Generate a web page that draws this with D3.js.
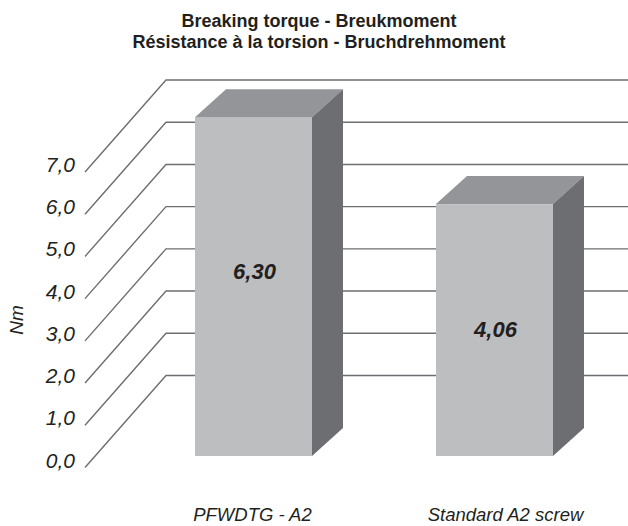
<!DOCTYPE html>
<html>
<head>
<meta charset="utf-8">
<script src="https://cdn.jsdelivr.net/npm/d3@7"></script>
<style>
  body { margin: 0; background: #fff; }
  svg { display: block; font-family: "Liberation Sans", Arial, sans-serif; }
</style>
</head>
<body>
<div id="chart"></div>
<script>
// data
const categories = ["PFWDTG - A2", "Standard A2 screw"];
const values = [6.30, 4.06];
const valueLabels = ["6,30", "4,06"];
const ticks = [0, 1, 2, 3, 4, 5, 6, 7];
const tickLabels = ["0,0", "1,0", "2,0", "3,0", "4,0", "5,0", "6,0", "7,0"];
const titleLines = ["Breaking torque - Breukmoment", "Résistance à la torsion - Bruchdrehmoment"];

const width = 628, height = 526;

const svg = d3.select("#chart").append("svg")
  .attr("width", width)
  .attr("height", height);

///
/// scales
///
// back wall gridlines
const yWall = d3.scaleLinear().domain([0, 7]).range([375.5, 80]);
// the bars in the picture stand on a floor lower than the wall zero
const yBar = d3.scaleLinear().domain([-2.43, 7]).range([456, 90]);
const x = d3.scalePoint().domain(categories).range([253.5, 494.5]);

const floorDx = 81, floorDy = 92;    // oblique floor of the wall lines
const wallLeft = 166, wallRight = width;
const barW = 117, depthX = 31, depthY = 28;
const barBottom = yBar(-2.43);
const labelShift = [-15, 0];         // value label nudges, as placed in the source

const gridColor = "#6d6e71";
const textColor = "#231f20";

///
/// gridlines
///
const grid = svg.append("g");
ticks.forEach(t => {
  const yb = yWall(t);
  grid.append("path")
    .attr("d", `M${wallLeft - floorDx},${yb + floorDy}L${wallLeft},${yb}L${wallRight},${yb}`)
    .attr("fill", "none")
    .attr("stroke", gridColor)
    .attr("stroke-width", 1.4);
});

grid.selectAll("text.tick")
  .data(ticks)
  .join("text")
  .attr("class", "tick")
  .attr("x", 75)
  .attr("y", d => yWall(d) + floorDy)
  .attr("text-anchor", "end")
  .attr("font-size", 21)
  .attr("font-style", "italic")
  .attr("fill", textColor)
  .text((d, i) => tickLabels[i]);

svg.append("text")
  .attr("transform", "translate(23,320) rotate(-90)")
  .attr("text-anchor", "middle")
  .attr("font-size", 19)
  .attr("font-style", "italic")
  .attr("fill", textColor)
  .text("Nm");

///
/// bars
///
const bars = svg.append("g").selectAll("g")
  .data(categories)
  .join("g");

bars.each(function(c, i) {
  const g = d3.select(this);
  const x0 = x(c) - barW / 2, x1 = x(c) + barW / 2;
  const yt = yBar(values[i]), yb = barBottom;

  g.append("rect")
    .attr("x", x0).attr("y", yt)
    .attr("width", barW).attr("height", yb - yt)
    .attr("fill", "#bcbec0");

  g.append("path")
    .attr("d", `M${x0},${yt}L${x0 + depthX},${yt - depthY}L${x1 + depthX},${yt - depthY}L${x1},${yt}Z`)
    .attr("fill", "#939598");

  g.append("path")
    .attr("d", `M${x1},${yt}L${x1 + depthX},${yt - depthY}L${x1 + depthX},${yb - depthY}L${x1},${yb}Z`)
    .attr("fill", "#6d6e71");

  g.append("text")
    .attr("x", x(c) + 1)
    .attr("y", (yt + yb) / 2 + 7 + labelShift[i])
    .attr("text-anchor", "middle")
    .attr("font-size", 22)
    .attr("font-weight", "bold")
    .attr("font-style", "italic")
    .attr("fill", textColor)
    .text(valueLabels[i]);
});

///
/// category labels
///
svg.append("g").selectAll("text")
  .data(categories)
  .join("text")
  .attr("x", (d, i) => x(d) + [-1, 11][i])
  .attr("y", 521)
  .attr("text-anchor", "middle")
  .attr("font-size", 18.5)
  .attr("font-style", "italic")
  .attr("fill", textColor)
  .text(d => d);

///
/// title
///
svg.append("g").selectAll("text")
  .data(titleLines)
  .join("text")
  .attr("x", 319)
  .attr("y", (d, i) => 27 + i * 21)
  .attr("text-anchor", "middle")
  .attr("font-size", 18)
  .attr("font-weight", "bold")
  .attr("fill", textColor)
  .text(d => d);
</script>
</body>
</html>
